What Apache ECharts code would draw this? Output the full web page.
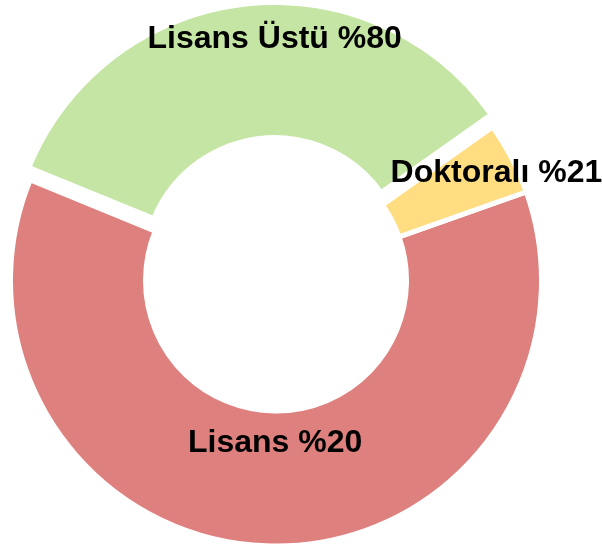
<!DOCTYPE html>
<html>
<head>
<meta charset="utf-8">
<script src="https://cdn.jsdelivr.net/npm/echarts@6/dist/echarts.min.js"></script>
<style>
  html, body { margin: 0; padding: 0; background: #ffffff; }
  #chart { width: 602px; height: 544px; }
</style>
</head>
<body>
<div id="chart"></div>
<script>
// Data
const categories = ['Lisans', 'Lisans Üstü', 'Doktoralı'];
const values = [61.6, 34.0, 4.4];
const labelSuffixes = ['%20', '%80', '%21'];
const pulledOut = [false, true, false];

// Style
const sliceColors = ['#de807e', '#c5e5a4', '#ffdd80'];
const labelNudgeX = [4, 23, 42];
const labelNudgeY = [-38, -29, -15];

const data = categories.map((name, i) => ({
  name: name,
  value: values[i],
  selected: pulledOut[i],
  itemStyle: { color: sliceColors[i] },
  select: { itemStyle: { color: sliceColors[i], borderColor: '#ffffff', borderWidth: 5 } }
}));

const chart = echarts.init(document.getElementById('chart'), null, { renderer: 'canvas' });
chart.setOption({
  animation: false,
  backgroundColor: '#ffffff',
  series: [{
    type: 'pie',
    center: [276, 280.5],
    radius: [130.5, 265.5],
    startAngle: 19.5,
    clockwise: true,
    selectedMode: 'multiple',
    selectedOffset: 12.5,
    avoidLabelOverlap: false,
    itemStyle: { borderColor: '#ffffff', borderWidth: 5 },
    emphasis: { disabled: true, scale: false },
    label: {
      show: true,
      position: 'inside',
      fontFamily: 'Liberation Sans, Arial, sans-serif',
      fontWeight: 'bold',
      fontSize: 32,
      color: '#000000',
      formatter: p => p.name + ' ' + labelSuffixes[p.dataIndex]
    },
    labelLine: { show: false },
    labelLayout: p => ({ dx: labelNudgeX[p.dataIndex], dy: labelNudgeY[p.dataIndex] }),
    data: data
  }]
});
</script>
</body>
</html>
